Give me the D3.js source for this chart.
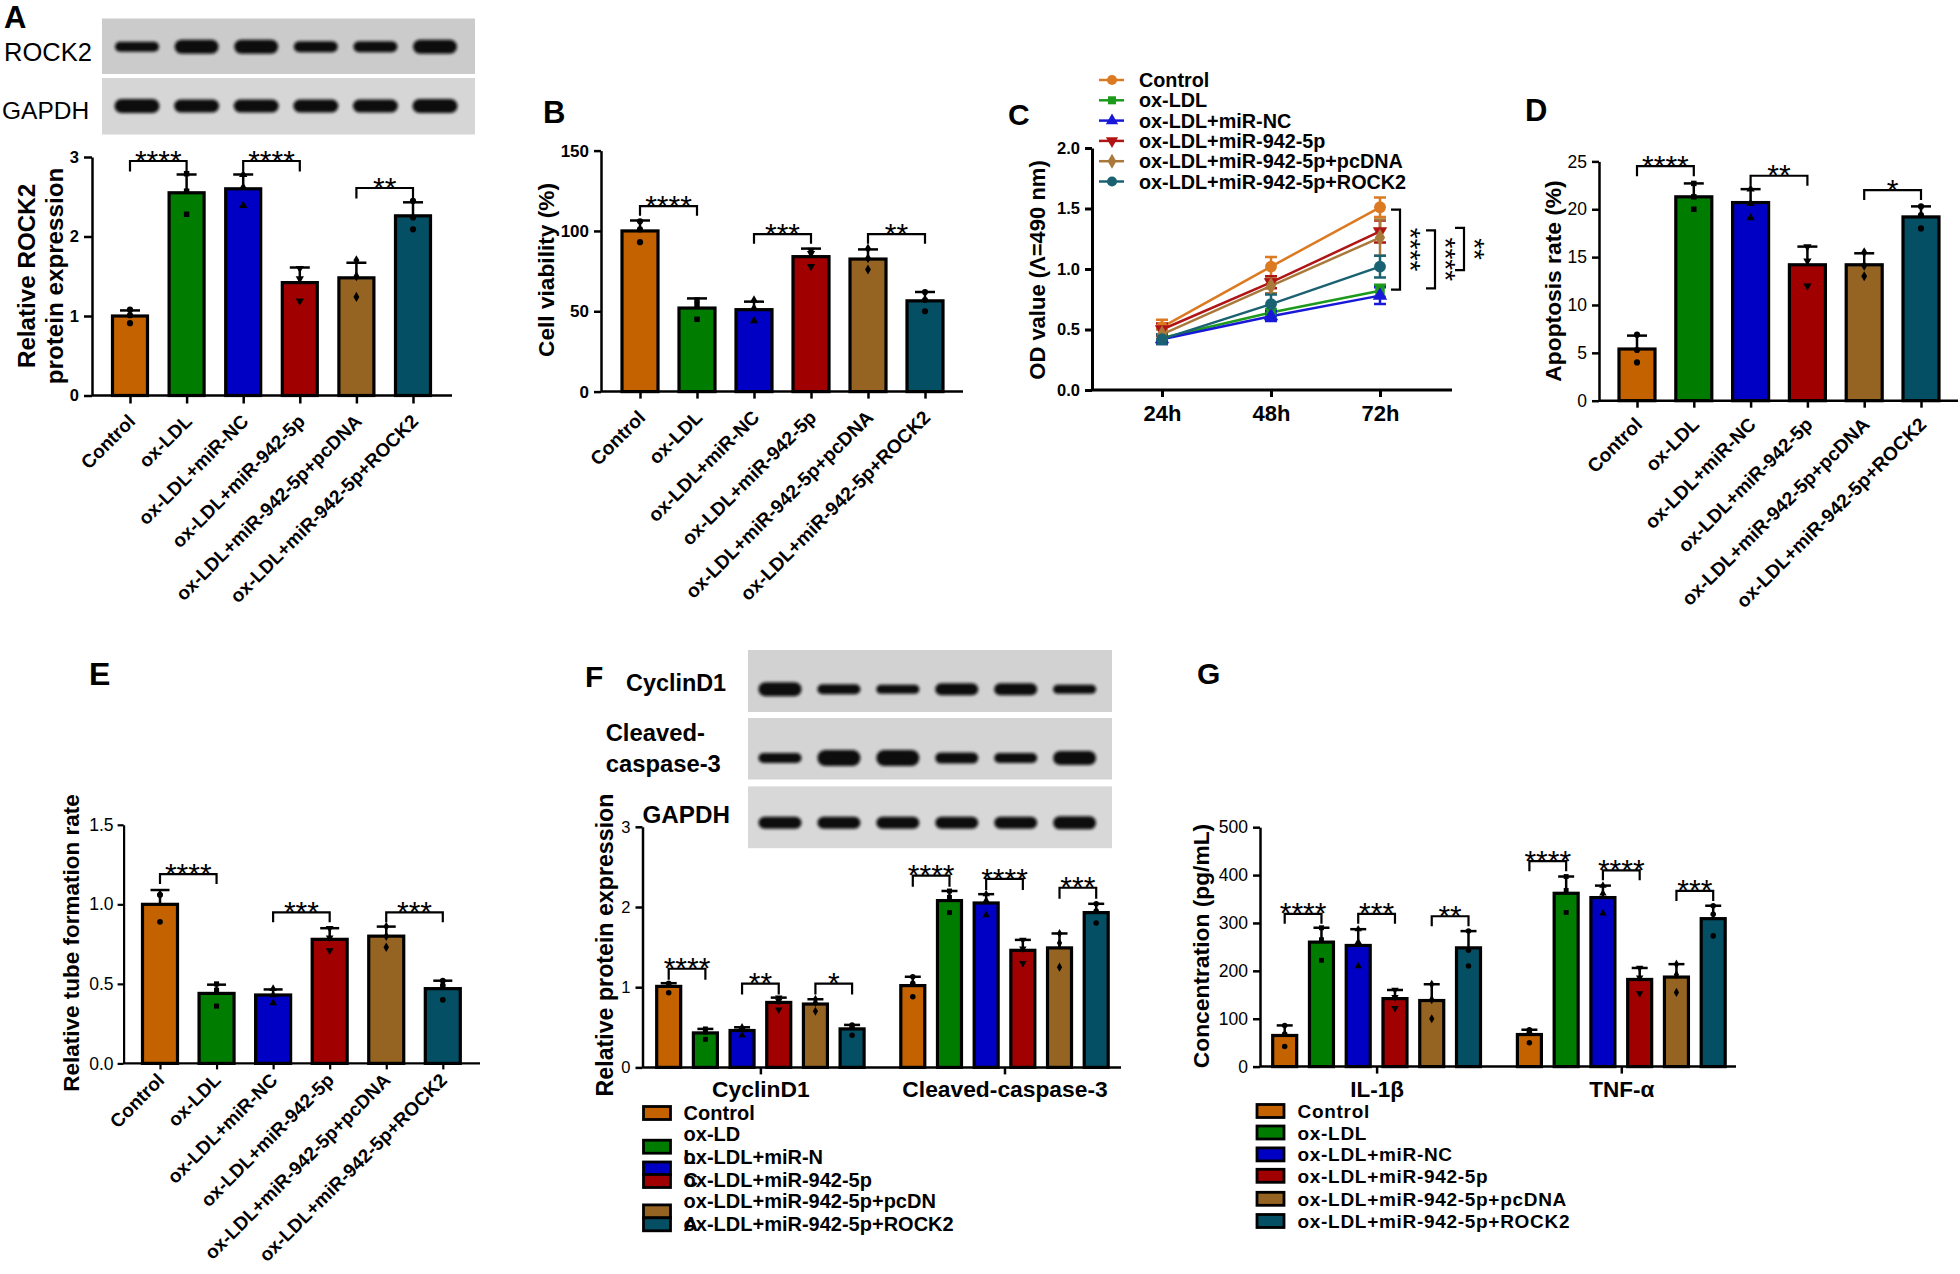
<!DOCTYPE html>
<html><head><meta charset="utf-8">
<script src="https://cdn.jsdelivr.net/npm/d3@7"></script>
<style>body{margin:0;background:#fff}</style>
</head><body><svg id="c" width="1960" height="1274"></svg>
<script>
// ---------------- DATA ----------------
const groups = ["Control","ox-LDL","ox-LDL+miR-NC","ox-LDL+miR-942-5p","ox-LDL+miR-942-5p+pcDNA","ox-LDL+miR-942-5p+ROCK2"];
const barColors = ["#C46200","#007D00","#0000C4","#A00000","#966422","#044F63"];
const lineColors = ["#DC7A22","#1C9A1C","#1818D8","#B01414","#A8793A","#1A6272"];
const shapes = ["circle","square","triangle","tdown","diamond","circle"];

// A: ROCK2 protein
const rock2Mean = [1.00,2.55,2.60,1.42,1.48,2.26];
const rock2Err  = [0.07,0.23,0.18,0.19,0.19,0.17];
const rock2Pts  = [[0.91,1.01,1.08],[2.28,2.57,2.79],[2.39,2.62,2.78],[1.19,1.47,1.60],[1.24,1.50,1.70],[2.09,2.24,2.45]];
const rock2Band = [10,14,14,11,11,14];
const gapdhBandA = [14,13,13,13,13,14];

// B: cell viability
const viabMean = [100,52,51,84,82.5,56.5];
const viabErr  = [6.5,6,5,5,6,5.5];
const viabPts  = [[93,101,106],[45,54,57],[44,52,57],[78,86,88],[76,83,89],[50,57,62]];

// C: OD value
const odTimes = ["24h","48h","72h"];
const odMean = [[0.52,1.02,1.51],[0.43,0.64,0.82],[0.42,0.61,0.78],[0.50,0.89,1.31],[0.46,0.86,1.26],[0.42,0.71,1.02]];
const odErr  = [[0.06,0.08,0.08],[0.03,0.03,0.05],[0.04,0.04,0.07],[0.05,0.05,0.09],[0.04,0.06,0.15],[0.04,0.08,0.09]];
const odSig  = [{hi:1.49,lo:0.83,t:"****"},{hi:1.32,lo:0.84,t:"****"},{hi:1.34,lo:0.99,t:"**"}];

// D: apoptosis
const apopMean = [5.4,21.3,20.7,14.2,14.2,19.2];
const apopErr  = [1.4,1.4,1.4,1.9,1.2,1.1];
const apopPts  = [[4.0,5.3,6.9],[20.0,21.3,22.7],[19.1,20.6,22.1],[12.0,14.6,16.1],[13.0,14.1,15.5],[18.0,19.4,20.3]];

// E: tube formation
const tubeMean = [1.00,0.44,0.43,0.78,0.80,0.47];
const tubeErr  = [0.09,0.055,0.035,0.07,0.06,0.05];
const tubePts  = [[0.89,1.06,1.06],[0.36,0.46,0.50],[0.38,0.43,0.47],[0.71,0.79,0.85],[0.73,0.80,0.86],[0.40,0.49,0.52]];

// F: CyclinD1 / Cleaved-caspase-3
const proteinsF = ["CyclinD1","Cleaved-caspase-3"];
const cyclinMean = [1.01,0.43,0.46,0.81,0.79,0.48];
const cyclinErr  = [0.04,0.05,0.04,0.06,0.06,0.05];
const cyclinPts  = [[0.93,1.04,1.05],[0.35,0.44,0.48],[0.40,0.47,0.50],[0.72,0.83,0.87],[0.70,0.81,0.85],[0.40,0.50,0.53]];
const caspMean = [1.02,2.08,2.05,1.46,1.49,1.93];
const caspErr  = [0.11,0.12,0.11,0.13,0.18,0.11];
const caspPts  = [[0.88,1.05,1.13],[1.93,2.12,2.20],[1.90,2.08,2.16],[1.30,1.48,1.59],[1.25,1.55,1.67],[1.80,1.95,2.04]];
const cyclinBand = [14,10,9,12,12,9];
const caspBand   = [10,16,16,11,10,14];
const gapdhBandF = [12,12,12,12,12,13];
const fLegendLines = [["Control"],["ox-LD"],["L","ox-LDL+miR-N"],["C","ox-LDL+miR-942-5p"],["ox-LDL+miR-942-5p+pcDN"],["A","ox-LDL+miR-942-5p+ROCK2"]];

// G: cytokines
const cytokines = ["IL-1β","TNF-α"];
const il1bMean = [65,260,253,142,138,248];
const il1bErr  = [21,30,34,18,34,35];
const il1bPts  = [[42,68,86],[222,265,290],[210,260,287],[122,145,160],[100,140,172],[210,243,283]];
const tnfMean = [67,362,353,182,187,309];
const tnfErr  = [10,35,25,24,27,27];
const tnfPts  = [[50,72,77],[322,368,397],[320,362,378],[153,186,206],[155,192,214],[273,318,336]];

// ---------------- DRAWING ----------------
const FONT = "'Liberation Sans', Arial, Helvetica, sans-serif";
const svg = d3.select("#c");
svg.append("rect").attr("width",1960).attr("height",1274).attr("fill","#fff");
const defs = svg.append("defs");
defs.append("filter").attr("id","blur").attr("x","-20%").attr("y","-50%").attr("width","140%").attr("height","200%")
  .append("feGaussianBlur").attr("stdDeviation",1.7);

const SYM = {circle:d3.symbolCircle, square:d3.symbolSquare, triangle:d3.symbolTriangle, tdown:d3.symbolTriangle, diamond:d3.symbolDiamond};

function txt(g, x, y, s, fs, opt={}) {
  const t = g.append("text").attr("x",x).attr("y",y).attr("font-family",FONT).attr("font-size",fs)
    .attr("font-weight",opt.w||"bold").attr("fill","#000").text(s);
  if (opt.anchor) t.attr("text-anchor",opt.anchor);
  if (opt.tr) t.attr("transform",opt.tr);
  if (opt.ls) t.attr("letter-spacing",opt.ls);
  return t;
}
function styleAxis(sel, sw, fs, w) {
  sel.attr("font-family",FONT);
  sel.select(".domain").attr("stroke","#000").attr("stroke-width",sw);
  sel.selectAll(".tick line").attr("stroke","#000").attr("stroke-width",sw);
  sel.selectAll(".tick text").attr("fill","#000").attr("font-size",fs).attr("font-weight",w);
}
function ylabel(g, lines, x0, dx, cy, fs, w) {
  lines.forEach((l,i)=> txt(g, 0, 0, l, fs, {anchor:"middle", w:w, tr:`translate(${x0+i*dx},${cy}) rotate(-90)`}));
}

function barPanel(o) {
  const g = svg.append("g");
  const y = d3.scaleLinear().domain([0,o.yMax]).range([o.y0,o.yTop]);
  o.items.forEach(it => {
    const yt = y(it.m);
    g.append("rect").attr("x",it.x-o.bw/2).attr("y",yt).attr("width",o.bw).attr("height",o.y0-yt)
      .attr("fill",it.c).attr("stroke","#000").attr("stroke-width",o.bs);
    const ye = y(it.m+it.e);
    g.append("line").attr("x1",it.x).attr("x2",it.x).attr("y1",yt).attr("y2",ye).attr("stroke","#000").attr("stroke-width",o.es);
    g.append("line").attr("x1",it.x-o.cap/2).attr("x2",it.x+o.cap/2).attr("y1",ye).attr("y2",ye).attr("stroke","#000").attr("stroke-width",o.es);
    it.p.forEach(v => g.append("path").attr("d",d3.symbol(SYM[it.s], o.ps)())
      .attr("transform",`translate(${it.x},${y(v)})`+(it.s==="tdown"?" rotate(180)":"")).attr("fill","#000"));
  });
  const ya = g.append("g").attr("transform",`translate(${o.ax},0)`)
    .call(d3.axisLeft(y).tickValues(o.ticks).tickFormat(o.fmt).tickSizeInner(o.tl).tickSizeOuter(0).tickPadding(o.tp));
  styleAxis(ya, o.as, o.tf, o.tw);
  g.append("line").attr("x1",o.ax).attr("x2",o.xEnd).attr("y1",o.y0).attr("y2",o.y0).attr("stroke","#000").attr("stroke-width",o.as);
  const xa = g.append("g").attr("transform",`translate(0,${o.y0})`)
    .call(d3.axisBottom(o.xs).tickSizeInner(o.tl).tickSizeOuter(0));
  xa.select(".domain").remove();
  styleAxis(xa, o.as, o.lf, o.lw);
  if (o.rot) {
    xa.selectAll(".tick text").attr("x",0).attr("y",0).attr("dy",0).attr("text-anchor","end")
      .attr("transform",`translate(${o.lx},${o.ly}) rotate(${-o.rot})`);
  } else {
    xa.selectAll(".tick text").attr("y",o.ly).attr("dy",0);
  }
  o.sig.forEach(b => {
    const xa_ = o.items[b.a].x, xb_ = o.items[b.b].x, yy = y(b.y);
    g.append("path").attr("d",`M${xa_},${yy+o.drop}V${yy}H${xb_}V${yy+o.drop}`)
      .attr("fill","none").attr("stroke","#000").attr("stroke-width",o.bk);
    txt(g,(xa_+xb_)/2, yy-3+0.42*o.sf, b.t, o.sf, {anchor:"middle", w:"normal"});
  });
  return {g, y};
}

function singleItems(xs, mean, err, pts) {
  return groups.map((k,i)=>({x:xs(k), m:mean[i], e:err[i], p:pts[i], c:barColors[i], s:shapes[i]}));
}

function blot(g, x, y, w, h, bg, lanes, yb, thick, bwid) {
  g.append("rect").attr("x",x).attr("y",y).attr("width",w).attr("height",h).attr("fill",bg);
  thick.forEach((t,i)=>{
    g.append("rect").attr("x",lanes(i)-bwid/2).attr("y",yb-t/2).attr("width",bwid).attr("height",t)
      .attr("rx",Math.min(t/2,9)).attr("fill","#111").attr("filter","url(#blur)");
  });
}

// ---------- Panel A ----------
{
  const g = svg.append("g");
  txt(g,4,28,"A",31);
  const lanes = d3.scalePoint().domain(d3.range(6)).range([137,435]);
  blot(g,102,18.5,373,55.5,"#cbcbcb",lanes,46.7,rock2Band,44);
  blot(g,102,78,373,56.5,"#d6d6d6",lanes,106,gapdhBandA,45);
  txt(g,4,61,"ROCK2",25.5,{w:"normal"});
  txt(g,2,118.5,"GAPDH",24.5,{w:"normal"});
  const xs = d3.scalePoint().domain(groups).range([130,413]);
  barPanel({xs, items:singleItems(xs,rock2Mean,rock2Err,rock2Pts), yMax:3, y0:395.5, yTop:157, ax:92, xEnd:452,
    ticks:[0,1,2,3], fmt:d3.format("d"), tl:8, tp:5, as:2.5, tf:16.5, tw:"bold", bw:35, bs:3.2, es:2.5, cap:20, ps:30,
    lf:19, lw:"bold", rot:45, lx:6, ly:27, drop:10.5, bk:2.2, sf:30,
    sig:[{a:0,b:1,y:2.95,t:"****"},{a:2,b:3,y:2.95,t:"****"},{a:4,b:5,y:2.61,t:"**"}]});
  ylabel(g,["Relative ROCK2","protein expression"],35,28,276,24.2,"bold");
}

// ---------- Panel B ----------
{
  const g = svg.append("g");
  txt(g,543,123,"B",31);
  const xs = d3.scalePoint().domain(groups).range([640,925]);
  barPanel({xs, items:singleItems(xs,viabMean,viabErr,viabPts), yMax:150, y0:391.6, yTop:150.6, ax:601, xEnd:963,
    ticks:[0,50,100,150], fmt:d3.format("d"), tl:7, tp:5, as:2.5, tf:17, tw:"bold", bw:36, bs:3.2, es:2.5, cap:20, ps:30,
    lf:19.2, lw:"bold", rot:45, lx:6, ly:27, drop:9.5, bk:2.2, sf:30,
    sig:[{a:0,b:1,y:115.4,t:"****"},{a:2,b:3,y:98,t:"***"},{a:4,b:5,y:98,t:"**"}]});
  ylabel(g,["Cell viability (%)"],554,0,270,22.7,"bold");
}

// ---------- Panel C ----------
{
  const g = svg.append("g");
  txt(g,1008,125,"C",30);
  const y = d3.scaleLinear().domain([0,2]).range([390,148]);
  const x = d3.scalePoint().domain(odTimes).range([1162,1380]);
  const line = d3.line().x((d,i)=>x(odTimes[i])).y(d=>y(d));
  odMean.forEach((ser,k)=>{
    const col = lineColors[k];
    g.append("path").attr("d",line(ser)).attr("fill","none").attr("stroke",col).attr("stroke-width",2.5);
    ser.forEach((v,i)=>{
      const e = odErr[k][i], xx = x(odTimes[i]);
      g.append("path").attr("d",`M${xx},${y(v-e)}V${y(v+e)}M${xx-6},${y(v+e)}H${xx+6}M${xx-6},${y(v-e)}H${xx+6}`)
        .attr("stroke",col).attr("stroke-width",2.5).attr("fill","none");
    });
  });
  odMean.forEach((ser,k)=>{
    ser.forEach((v,i)=>{
      const s = shapes[k];
      g.append("path").attr("d",d3.symbol(SYM[s], s==="circle"?110:90)())
        .attr("transform",`translate(${x(odTimes[i])},${y(v)})`+(s==="tdown"?" rotate(180)":"")).attr("fill",lineColors[k]);
    });
  });
  const ya = g.append("g").attr("transform","translate(1092,0)")
    .call(d3.axisLeft(y).tickValues([0,0.5,1,1.5,2]).tickFormat(d3.format(".1f")).tickSizeInner(7).tickSizeOuter(0).tickPadding(5));
  styleAxis(ya,3,16.5,"bold");
  g.append("line").attr("x1",1092).attr("x2",1452).attr("y1",390).attr("y2",390).attr("stroke","#000").attr("stroke-width",3);
  const xa = g.append("g").attr("transform","translate(0,390)").call(d3.axisBottom(x).tickSizeInner(7).tickSizeOuter(0));
  xa.select(".domain").remove();
  styleAxis(xa,3,22,"bold");
  xa.selectAll(".tick text").attr("y",31).attr("dy",0);
  const bx = [1400,1435,1464];
  odSig.forEach((b,i)=>{
    const y1 = y(b.hi), y2 = y(b.lo);
    g.append("path").attr("d",`M${bx[i]-9},${y1}H${bx[i]}V${y2}H${bx[i]-9}`).attr("fill","none").attr("stroke","#000").attr("stroke-width",2.2);
    txt(g,0,0,b.t,28,{anchor:"middle",w:"normal",tr:`translate(${bx[i]+1},${(y1+y2)/2}) rotate(90)`});
  });
  groups.forEach((nm,k)=>{
    const yy = 80 + k*20.3;
    g.append("line").attr("x1",1099).attr("x2",1124).attr("y1",yy).attr("y2",yy).attr("stroke",lineColors[k]).attr("stroke-width",2.5);
    const s = shapes[k];
    g.append("path").attr("d",d3.symbol(SYM[s], s==="circle"?80:65)())
      .attr("transform",`translate(1112,${yy})`+(s==="tdown"?" rotate(180)":"")).attr("fill",lineColors[k]);
    txt(g,1139,yy+7,nm,19.8);
  });
  ylabel(g,["OD value (Λ=490 nm)"],1045,0,270,22,"bold");
}

// ---------- Panel D ----------
{
  const g = svg.append("g");
  txt(g,1525,121,"D",31);
  const xs = d3.scalePoint().domain(groups).range([1637,1921]);
  barPanel({xs, items:singleItems(xs,apopMean,apopErr,apopPts), yMax:25, y0:400.7, yTop:161.4, ax:1599, xEnd:1958,
    ticks:[0,5,10,15,20,25], fmt:d3.format("d"), tl:7, tp:5, as:2.5, tf:17.5, tw:"normal", bw:36, bs:3.2, es:2.5, cap:20, ps:30,
    lf:19.2, lw:"bold", rot:45, lx:6, ly:25, drop:10, bk:2.2, sf:30,
    sig:[{a:0,b:1,y:24.5,t:"****"},{a:2,b:3,y:23.5,t:"**"},{a:4,b:5,y:22.0,t:"*"}]});
  ylabel(g,["Apoptosis rate (%)"],1561,0,281,22.8,"bold");
}

// ---------- Panel E ----------
{
  const g = svg.append("g");
  txt(g,89,684.5,"E",32);
  const xs = d3.scalePoint().domain(groups).range([160,442.8]);
  barPanel({xs, items:singleItems(xs,tubeMean,tubeErr,tubePts), yMax:1.5, y0:1063.4, yTop:824.8, ax:123.6, xEnd:480,
    ticks:[0,0.5,1,1.5], fmt:d3.format(".1f"), tl:6, tp:4, as:2.2, tf:17.5, tw:"normal", bw:35, bs:3.2, es:2.5, cap:19, ps:26,
    lf:19, lw:"bold", rot:45, lx:5, ly:18, drop:10, bk:2.2, sf:30,
    sig:[{a:0,b:1,y:1.19,t:"****"},{a:2,b:3,y:0.95,t:"***"},{a:4,b:5,y:0.95,t:"***"}]});
  ylabel(g,["Relative tube formation rate"],79,0,943,22.5,"bold");
}

// ---------- Panel F ----------
{
  const g = svg.append("g");
  txt(g,585,686.5,"F",30);
  const lanes = d3.scalePoint().domain(d3.range(6)).range([780,1074.6]);
  blot(g,748,650,364,62,"#d2d2d2",lanes,689.3,cyclinBand,43);
  blot(g,748,718,364,61.5,"#d4d4d4",lanes,758,caspBand,43);
  blot(g,748,786.4,364,61.8,"#d8d8d8",lanes,822.8,gapdhBandF,43);
  txt(g,626,691,"CyclinD1",23.4);
  txt(g,605.7,741,"Cleaved-",23.8);
  txt(g,605.7,772,"caspase-3",23.8);
  txt(g,642.5,822.8,"GAPDH",24.2);
  const gx = d3.scalePoint().domain(proteinsF).range([760.4,1004.5]);
  const ix = d3.scalePoint().domain(groups).range([-91.7,91.7]);
  const items = [];
  [[cyclinMean,cyclinErr,cyclinPts],[caspMean,caspErr,caspPts]].forEach((d,j)=>{
    groups.forEach((k,i)=>items.push({x:gx(proteinsF[j])+ix(k), m:d[0][i], e:d[1][i], p:d[2][i], c:barColors[i], s:shapes[i]}));
  });
  barPanel({xs:gx, items, yMax:3, y0:1067.4, yTop:826.8, ax:642.5, xEnd:1121,
    ticks:[0,1,2,3], fmt:d3.format("d"), tl:7, tp:5, as:2.5, tf:16.5, tw:"normal", bw:24, bs:3.2, es:2.5, cap:16, ps:24,
    lf:22.8, lw:"bold", rot:0, ly:30, drop:11, bk:2.2, sf:30,
    sig:[{a:0,b:1,y:1.23,t:"****"},{a:2,b:3,y:1.045,t:"**"},{a:4,b:5,y:1.045,t:"*"},
         {a:6,b:7,y:2.39,t:"****"},{a:8,b:9,y:2.35,t:"****"},{a:10,b:11,y:2.24,t:"***"}]});
  ylabel(g,["Relative protein expression"],613,0,945,23.2,"bold");
  // legend (reproduced as it appears, with wrapped labels overlapping)
  const sw = [1113,1146.7,1168.5,1181,1211.4,1224.3];
  sw.forEach((yy,i)=> g.append("rect").attr("x",643.5).attr("y",yy-6.5).attr("width",27).attr("height",13)
    .attr("fill",barColors[i]).attr("stroke","#000").attr("stroke-width",2.8));
  const ty = [1113,1134,1156.8,1179.8,1201.3,1223.5];
  fLegendLines.forEach((parts,i)=> parts.forEach(p=> txt(g,683.6,ty[i]+7,p,20)));
}

// ---------- Panel G ----------
{
  const g = svg.append("g");
  txt(g,1197,683.7,"G",30);
  const gx = d3.scalePoint().domain(cytokines).range([1376.6,1621.3]);
  const ix = d3.scalePoint().domain(groups).range([-91.9,91.9]);
  const items = [];
  [[il1bMean,il1bErr,il1bPts],[tnfMean,tnfErr,tnfPts]].forEach((d,j)=>{
    groups.forEach((k,i)=>items.push({x:gx(cytokines[j])+ix(k), m:d[0][i], e:d[1][i], p:d[2][i], c:barColors[i], s:shapes[i]}));
  });
  barPanel({xs:gx, items, yMax:500, y0:1066.6, yTop:827.2, ax:1260, xEnd:1736,
    ticks:[0,100,200,300,400,500], fmt:d3.format("d"), tl:7, tp:5, as:2.5, tf:17.5, tw:"normal", bw:24, bs:3.2, es:2.5, cap:16, ps:24,
    lf:22.5, lw:"bold", rot:0, ly:30, drop:10, bk:2.2, sf:30,
    sig:[{a:0,b:1,y:319,t:"****"},{a:2,b:3,y:319,t:"***"},{a:4,b:5,y:314,t:"**"},
         {a:6,b:7,y:429,t:"****"},{a:8,b:9,y:410,t:"****"},{a:10,b:11,y:367,t:"***"}]});
  ylabel(g,["Concentration (pg/mL)"],1209,0,946,22.8,"bold");
  const ly = [1111,1132.5,1154.4,1175.8,1198.8,1221];
  groups.forEach((nm,i)=>{
    const yy = ly[i];
    g.append("rect").attr("x",1257).attr("y",yy-6.5).attr("width",27).attr("height",13)
      .attr("fill",barColors[i]).attr("stroke","#000").attr("stroke-width",2.8);
    txt(g,1297.5,yy+7,nm,19,{ls:0.7});
  });
}
</script></body></html>
